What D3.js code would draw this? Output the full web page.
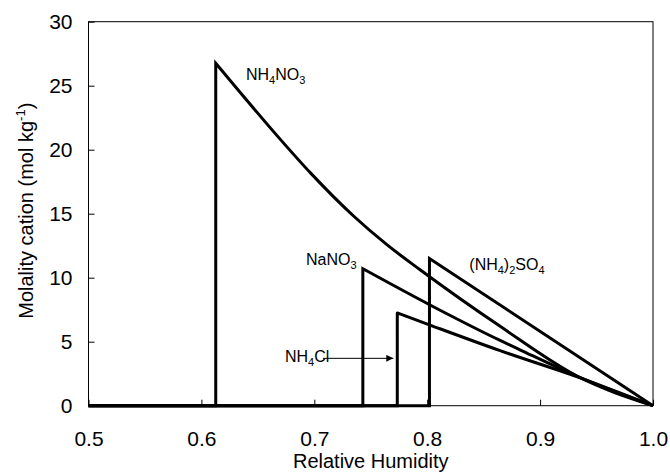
<!DOCTYPE html>
<html>
<head>
<meta charset="utf-8">
<script src="https://d3js.org/d3.v7.min.js"></script>
<style>
body{margin:0;background:#fff;}
svg text{font-family:"Liberation Sans", Arial, sans-serif;fill:#000;}
</style>
</head>
<body>
<div id="chart"></div>
<script>
// 상대습도(RH) 대비 양이온 몰랄농도
var nh4no3RH = [0.5, 0.6127, 0.6127, 0.637, 0.667, 0.697, 0.735, 0.764, 0.794, 0.8646, 0.933, 1.0];
var nh4no3M  = [0,   0,      26.75,  24.2,  21.1,  18.15, 14.8,  12.6,  10.6,  6.2,    2.3,   0];

var nano3RH = [0.5, 0.743, 0.743, 0.8025, 0.8646, 0.8826, 0.933, 1.0];
var nano3M  = [0,   0,     10.7,  7.87,   5.1,    4.35,   2.3,   0];

var nh4clRH = [0.5, 0.7735, 0.7735, 0.8025, 0.8646, 0.933, 1.0];
var nh4clM  = [0,   0,      7.25,   6.3,    4.3,    2.25,  0];

var nh42so4RH = [0.5, 0.802, 0.802, 1.0];
var nh42so4M  = [0,   0,     11.5,  0];

var xTicks = [0.5, 0.6, 0.7, 0.8, 0.9, 1.0];
var yTicks = [0, 5, 10, 15, 20, 25, 30];

var width = 670, height = 473;
var margin = {top: 21.7, right: 17, bottom: 67.3, left: 88.5};
var w = width - margin.left - margin.right,
	h = height - margin.top - margin.bottom;

var svg = d3.select("#chart").append("svg")
	.attr("width", width)
	.attr("height", height);

var g = svg.append("g")
	.attr("transform", "translate(" + margin.left + "," + margin.top + ")");

var x = d3.scaleLinear().domain([0.5, 1.0]).range([0, w]);
var y = d3.scaleLinear().domain([0, 30]).range([h, 0]);

// 축
var xAxis = g.append("g")
	.attr("transform", "translate(0," + h + ")")
	.call(d3.axisBottom(x).tickValues(xTicks).tickFormat(d3.format(".1f")).tickSizeInner(-6).tickSizeOuter(0).tickPadding(25));
var yAxis = g.append("g")
	.call(d3.axisLeft(y).tickValues(yTicks).tickSizeInner(-6).tickSizeOuter(0).tickPadding(16));

[xAxis, yAxis].forEach(function(a){
	a.select(".domain").remove();
	a.selectAll("line").attr("stroke", "#000").attr("stroke-width", 1);
	a.selectAll("text").attr("font-size", "21px").style("font-family", "'Liberation Sans', Arial, sans-serif");
});

// 테두리
g.append("rect")
	.attr("x", 0).attr("y", 0)
	.attr("width", w).attr("height", h)
	.attr("fill", "none")
	.attr("stroke", "#000")
	.attr("stroke-width", 1);

// 시리즈
var series = [
	{rh: nh4no3RH, m: nh4no3M},
	{rh: nano3RH, m: nano3M},
	{rh: nh4clRH, m: nh4clM},
	{rh: nh42so4RH, m: nh42so4M}
];

var rise = d3.line().x(function(d){ return x(d[0]); }).y(function(d){ return y(d[1]); });
var fall = d3.line().x(function(d){ return x(d[0]); }).y(function(d){ return y(d[1]); }).curve(d3.curveMonotoneX);

series.forEach(function(s){
	var pts = s.rh.map(function(v, i){ return [v, s.m[i]]; });
	var d = rise(pts.slice(0, 3)) + fall(pts.slice(2)).replace(/^M/, "L");
	g.append("path")
		.attr("d", d)
		.attr("fill", "none")
		.attr("stroke", "#000")
		.attr("stroke-width", 3)
		.attr("stroke-linejoin", "miter");
});

// 라벨
var labels = [
	{rh: 0.6395, m: 25.45, parts: [["NH", 0], ["4", 1], ["NO", 0], ["3", 1]]},
	{rh: 0.6926, m: 11.0,  parts: [["NaNO", 0], ["3", 1]]},
	{rh: 0.674,  m: 3.44,  parts: [["NH", 0], ["4", 1], ["Cl", 0]]},
	{rh: 0.8373, m: 10.6,  parts: [["(NH", 0], ["4", 1], [")", 0], ["2", 1], ["SO", 0], ["4", 1]]}
];

labels.forEach(function(l){
	var t = g.append("text")
		.attr("x", x(l.rh))
		.attr("y", y(l.m))
		.attr("font-size", "16px");
	var prevSub = 0;
	l.parts.forEach(function(p){
		var shift = (p[1] ? 4 : 0) - (prevSub ? 4 : 0);
		t.append("tspan")
			.attr("dy", shift)
			.attr("font-size", p[1] ? "11px" : "16px")
			.text(p[0]);
		prevSub = p[1];
	});
});

// 화살표
svg.append("defs").append("marker")
	.attr("id", "arr")
	.attr("viewBox", "0 0 10 10")
	.attr("refX", 10).attr("refY", 5)
	.attr("markerWidth", 9).attr("markerHeight", 7)
	.attr("markerUnits", "userSpaceOnUse")
	.attr("orient", "auto")
	.append("path")
	.attr("d", "M0,0L10,5L0,10Z")
	.attr("fill", "#000");

g.append("line")
	.attr("x1", x(0.7077)).attr("y1", y(3.70))
	.attr("x2", x(0.770)).attr("y2", y(3.70))
	.attr("stroke", "#000")
	.attr("stroke-width", 1)
	.attr("marker-end", "url(#arr)");

// 축 제목
g.append("text")
	.attr("x", w / 2)
	.attr("y", h + 62)
	.attr("text-anchor", "middle")
	.attr("font-size", "20px")
	.text("Relative Humidity");

var yt = g.append("text")
	.attr("transform", "translate(-56," + (h / 2 - 3) + ") rotate(-90)")
	.attr("text-anchor", "middle")
	.attr("font-size", "20px");
yt.append("tspan").text("Molality cation (mol kg");
yt.append("tspan").attr("font-size", "13px").attr("dy", -8).text("-1");
yt.append("tspan").attr("dy", 8).text(")");
</script>
</body>
</html>
